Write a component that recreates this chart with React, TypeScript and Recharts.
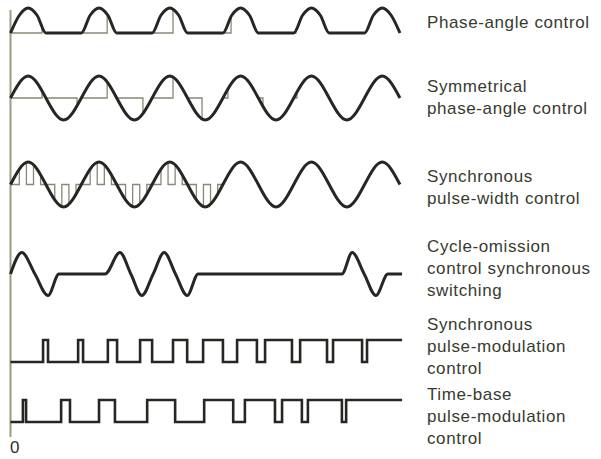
import React from "react";
import { LineChart, Line, XAxis, YAxis, ReferenceLine } from "recharts";

// time in ms, 50 Hz mains -> 20 ms per cycle
const T_MAX = 111;

// 1. phase-angle control (half-wave supply + firing points)
const phaseSupplyT = [0, 2.5, 5, 7.5, 10, 20, 22.5, 25, 27.5, 30, 40, 42.5, 45, 47.5, 50, 60, 62.5, 65, 67.5, 70, 80, 82.5, 85, 87.5, 90, 100, 102.5, 105, 107.5, 110];
const phaseSupplyV = [0, 0.71, 1, 0.71, 0, 0, 0.71, 1, 0.71, 0, 0, 0.71, 1, 0.71, 0, 0, 0.71, 1, 0.71, 0, 0, 0.71, 1, 0.71, 0, 0, 0.71, 1, 0.71, 0];
const phaseFireT = [8.9, 27.3, 45.9, 62.3, 80.6];
const phaseFireV = [0.34, 0.75, 0.96, 0.66, 0.19];
const phaseFireEnd = [10, 30, 50, 70, 90];

// 2. symmetrical phase-angle control
const sineT = [0, 5, 10, 15, 20, 25, 30, 35, 40, 45, 50, 55, 60, 65, 70, 75, 80, 85, 90, 95, 100, 105, 110];
const sineV = [0, 1, 0, -1, 0, 1, 0, -1, 0, 1, 0, -1, 0, 1, 0, -1, 0, 1, 0, -1, 0, 1, 0];
const symFireT = [8.9, 18.8, 27.3, 37.4, 45.9, 54.1, 61.4, 71.3, 80.9];
const symFireV = [0.34, -0.37, 0.75, -0.73, 0.96, -0.96, 0.43, -0.4, 0.28];
const symFireEnd = [10, 20, 30, 40, 50, 60, 70, 80, 90];

// 3. synchronous pulse-width control (on windows)
const pwmOnT = [2.5, 6.5, 12.5, 16.5, 22.5, 26.5, 32.5, 36.5, 42.5, 46.5, 52.5, 56.5];
const pwmOnV = [0.71, 0.89, -0.71, -0.89, 0.71, 0.89, -0.71, -0.89, 0.71, 0.89, -0.71, -0.89];
const pwmOffT = [4.5, 8.5, 14.5, 18.5, 24.5, 28.5, 34.5, 38.5, 44.5, 48.5, 54.5, 58.5];
const pwmOffV = [0.99, 0.45, -0.99, -0.45, 0.99, 0.45, -0.99, -0.45, 0.99, 0.45, -0.99, -0.45];
const PWM_END = 60;

// 4. cycle-omission control
const omitT = [0, 3.2, 6.9, 10.6, 13.7, 26.7, 30.9, 34, 37.1, 40.3, 43.4, 46.6, 49.9, 53, 93.6, 96.5, 99.9, 103.2, 106.6, 110.6];
const omitV = [0, 1, 0, -1, 0, 0, 1, 0, -1, 0, 1, 0, -1, 0, 0, 1, 0, -1, 0, 0];

// 5. synchronous pulse-modulation (edge times / level after edge)
const syncPulseT = [0, 9.2, 10.6, 19.1, 20.5, 27.5, 30.1, 36.6, 40, 45.9, 49.9, 54.4, 60, 64, 69.6, 71.9, 79.5, 81.8, 89.4, 91.1, 99.3, 100.7, 110.6];
const syncPulseV = [0, 1, 0, 1, 0, 1, 0, 1, 0, 1, 0, 1, 0, 1, 0, 1, 0, 1, 0, 1, 0, 1, 1];

// 6. time-base pulse-modulation
const timePulseT = [0, 3.5, 4.4, 14.3, 16.8, 25, 29.5, 38.6, 46.5, 54.7, 62.9, 66.2, 74.7, 76.7, 82.3, 84, 93.6, 94.8, 110.6];
const timePulseV = [0, 1, 0, 1, 0, 1, 0, 1, 0, 1, 0, 1, 0, 1, 0, 1, 0, 1, 1];

const labels = [
  ["Phase-angle control"],
  ["Symmetrical", "phase-angle control"],
  ["Synchronous", "pulse-width control"],
  ["Cycle-omission", "control synchronous", "switching"],
  ["Synchronous", "pulse-modulation", "control"],
  ["Time-base", "pulse-modulation", "control"],
];
const labelTops = [12, 76, 166, 236, 314, 384];

type Pt = { t: number; v: number | null };

const zip = (ts: number[], vs: number[]): Pt[] => ts.map((t, i) => ({ t, v: vs[i] }));

// baseline with a jump up to the supply at each firing instant
const gateTrace = (fireT: number[], fireV: number[], fireEnd: number[]): Pt[] => {
  const pts: Pt[] = [];
  let start = 0;
  fireT.forEach((t, i) => {
    pts.push({ t: start, v: 0 }, { t, v: 0 }, { t, v: fireV[i] }, { t: t + 0.01, v: null });
    start = fireEnd[i];
  });
  return pts;
};

const pwmTrace = (): Pt[] => {
  const pts: Pt[] = [{ t: 0, v: 0 }];
  pwmOnT.forEach((t, i) => {
    pts.push(
      { t, v: 0 },
      { t, v: pwmOnV[i] },
      { t: (t + pwmOffT[i]) / 2, v: null },
      { t: pwmOffT[i], v: pwmOffV[i] },
      { t: pwmOffT[i], v: 0 }
    );
  });
  pts.push({ t: PWM_END, v: 0 });
  return pts;
};

const W = 410;
const THICK = "#262623";
const THIN = "#848a78";
const AXIS = "#9b9c84";

interface RowProps {
  top: number;
  height: number;
  base: number;
  amp: number;
  axisTop?: number;
  children: React.ReactNode;
}

const Row: React.FC<RowProps> = ({ top, height, base, amp, axisTop, children }) => {
  const yMax = (base - top) / amp;
  const yMin = -(top + height - base) / amp;
  const axisFrom = axisTop != null ? (base - axisTop) / amp : yMax;
  return (
    <div style={{ position: "absolute", left: 0, top, width: W, height }}>
      <LineChart width={W} height={height} margin={{ top: 0, right: 6.5, bottom: 0, left: 10.5 }}>
        <XAxis type="number" dataKey="t" domain={[0, T_MAX]} hide />
        <YAxis type="number" domain={[yMin, yMax]} hide />
        <ReferenceLine
          segment={[
            { x: 0, y: axisFrom },
            { x: 0, y: yMin },
          ]}
          stroke={AXIS}
          strokeWidth={2}
        />
        {children}
      </LineChart>
    </div>
  );
};

const thick = { stroke: THICK, strokeWidth: 3, dot: false, isAnimationActive: false, dataKey: "v" } as const;
const thin = { stroke: THIN, strokeWidth: 1.3, dot: false, isAnimationActive: false, dataKey: "v", type: "linear" } as const;

export default function App() {
  return (
    <div style={{ position: "absolute", left: 0, top: 0, width: 601, height: 459, background: "#fff", fontFamily: "'Liberation Sans', Arial, sans-serif" }}>
      <Row top={4} height={61} base={33} amp={25} axisTop={10}>
        <Line {...thin} data={gateTrace(phaseFireT, phaseFireV, phaseFireEnd)} />
        <Line {...thick} type="monotone" data={zip(phaseSupplyT, phaseSupplyV)} />
      </Row>
      <Row top={65} height={75} base={98} amp={22}>
        <Line {...thin} data={gateTrace(symFireT, symFireV, symFireEnd)} />
        <Line {...thick} type="natural" data={zip(sineT, sineV)} />
      </Row>
      <Row top={140} height={90} base={184.5} amp={22.5}>
        <Line {...thin} data={pwmTrace()} />
        <Line {...thick} type="natural" data={zip(sineT, sineV)} />
      </Row>
      <Row top={230} height={88} base={274} amp={21.5}>
        <Line {...thick} type="monotone" data={zip(omitT, omitV)} />
      </Row>
      <Row top={318} height={67} base={362} amp={22}>
        <Line {...thick} strokeWidth={2.6} type="stepAfter" data={zip(syncPulseT, syncPulseV)} />
      </Row>
      <Row top={385} height={52} base={422} amp={22}>
        <Line {...thick} strokeWidth={2.6} type="stepAfter" data={zip(timePulseT, timePulseV)} />
      </Row>

      {labels.map((lines, i) => (
        <div
          key={i}
          style={{
            position: "absolute",
            left: 427,
            top: labelTops[i],
            fontSize: 17,
            lineHeight: "22px",
            letterSpacing: 0.6,
            color: "#363b30",
            whiteSpace: "nowrap",
          }}
        >
          {lines.map((l) => (
            <div key={l}>{l}</div>
          ))}
        </div>
      ))}
      <div style={{ position: "absolute", left: 10, top: 438, fontSize: 17, color: "#2e322a" }}>0</div>
    </div>
  );
}
